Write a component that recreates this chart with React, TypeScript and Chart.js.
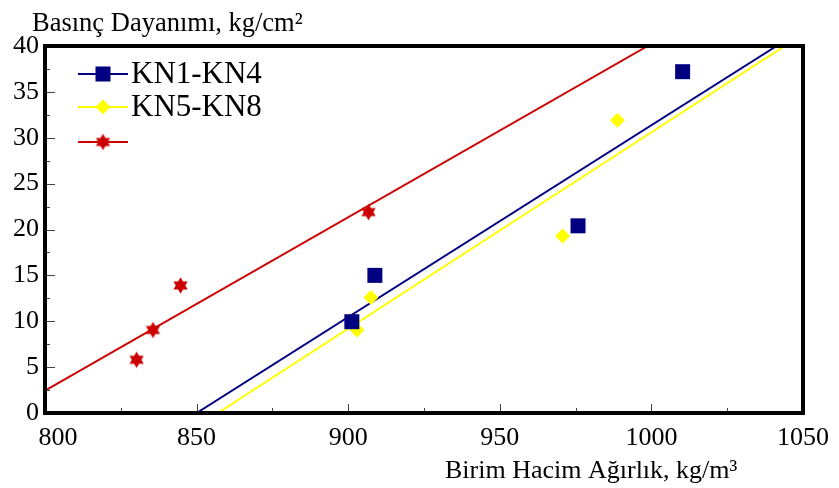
import React, { useEffect, useRef } from "react";
import { Chart, registerables } from "chart.js";

Chart.register(...registerables);

// ---- data ----
const seriesNames = ["KN1-KN4", "KN5-KN8", ""];
const seriesColors = ["#000080", "#FFFF00", "#CC0000"];

const kn1x = [901.2, 908.8, 975.8, 1010.3];
const kn1y = [9.95, 15.0, 20.4, 37.2];
const kn5x = [902.9, 907.5, 970.7, 988.8];
const kn5y = [9.05, 12.6, 19.3, 31.9];
const kn9x = [830.2, 835.6, 844.7, 906.7];
const kn9y = [5.8, 9.05, 13.9, 21.9];

// fitted lines as drawn in the picture (end points)
const kn1LineX = [850, 1041.3];
const kn1LineY = [0, 40];
const kn5LineX = [857, 1044];
const kn5LineY = [0, 40];
const kn9LineX = [800, 998.8];
const kn9LineY = [2.43, 40];

const xTickValues = [800, 850, 900, 950, 1000, 1050];
const xTickLabels = ["800", "850", "900", "950", "1000", "1050"];
const xMinorTicks = [825, 875, 925, 975, 1025];
const yTickValues = [0, 5, 10, 15, 20, 25, 30, 35, 40];
const yTickLabels = ["0", "5", "10", "15", "20", "25", "30", "35", "40"];
const yMinorTicks = [2.5, 7.5, 12.5, 17.5, 22.5, 27.5, 32.5, 37.5];

const yAxisTitle = "Basınç Dayanımı, kg/cm²";
const xAxisTitle = "Birim Hacim Ağırlık, kg/m³";

const SERIF = '"Liberation Serif", "Times New Roman", serif';

function pts(xs: number[], ys: number[]) {
  return xs.map((x, i) => ({ x, y: ys[i] }));
}

function makeStar(color: string, r: number): HTMLCanvasElement {
  const c = document.createElement("canvas");
  const s = Math.ceil(r * 2) + 2;
  c.width = s;
  c.height = s;
  const ctx = c.getContext("2d")!;
  const cx = s / 2;
  const cy = s / 2;
  ctx.fillStyle = color;
  [
    [-90, 30, 150],
    [90, 210, 330],
  ].forEach((angles) => {
    ctx.beginPath();
    angles.forEach((a, i) => {
      const rad = (a * Math.PI) / 180;
      const px = cx + r * Math.cos(rad);
      const py = cy + r * Math.sin(rad);
      if (i) ctx.lineTo(px, py);
      else ctx.moveTo(px, py);
    });
    ctx.closePath();
    ctx.fill();
  });
  return c;
}

export default function App() {
  const ref = useRef<HTMLCanvasElement | null>(null);

  useEffect(() => {
    document.body.style.margin = "0";
    const canvas = ref.current;
    if (!canvas) return;
    const star = makeStar(seriesColors[2], 8.2);

    const decor = {
      id: "decor",
      afterDraw(chart: any) {
        const ctx = chart.ctx as CanvasRenderingContext2D;
        const { left, right, top, bottom } = chart.chartArea;
        const xs = chart.scales.x;
        const ys = chart.scales.y;
        ctx.save();
        // inward ticks
        ctx.strokeStyle = "#444";
        ctx.lineWidth = 1;
        ctx.beginPath();
        xTickValues.forEach((v) => {
          const px = Math.round(xs.getPixelForValue(v)) + 0.5;
          ctx.moveTo(px, bottom);
          ctx.lineTo(px, bottom - 9);
        });
        xMinorTicks.forEach((v) => {
          const px = Math.round(xs.getPixelForValue(v)) + 0.5;
          ctx.moveTo(px, bottom);
          ctx.lineTo(px, bottom - 5);
        });
        yTickValues.forEach((v) => {
          const py = Math.round(ys.getPixelForValue(v)) + 0.5;
          ctx.moveTo(left, py);
          ctx.lineTo(left + 10, py);
        });
        yMinorTicks.forEach((v) => {
          const py = Math.round(ys.getPixelForValue(v)) + 0.5;
          ctx.moveTo(left, py);
          ctx.lineTo(left + 5, py);
        });
        ctx.stroke();

        // frame
        ctx.strokeStyle = "#000";
        ctx.lineWidth = 4;
        ctx.strokeRect(left, top, right - left, bottom - top);

        // legend
        const rows = [74, 107, 142];
        rows.forEach((ry, i) => {
          ctx.strokeStyle = seriesColors[i];
          ctx.lineWidth = 2;
          ctx.beginPath();
          ctx.moveTo(78, ry);
          ctx.lineTo(128, ry);
          ctx.stroke();
          ctx.fillStyle = seriesColors[i];
          if (i === 0) {
            ctx.fillRect(103 - 7.5, ry - 7.5, 15, 15);
          } else if (i === 1) {
            ctx.beginPath();
            ctx.moveTo(103, ry - 7.5);
            ctx.lineTo(110.5, ry);
            ctx.lineTo(103, ry + 7.5);
            ctx.lineTo(95.5, ry);
            ctx.closePath();
            ctx.fill();
          } else {
            ctx.drawImage(star, 103 - star.width / 2, ry - star.height / 2);
          }
          ctx.fillStyle = "#000";
          ctx.font = `31px ${SERIF}`;
          ctx.textBaseline = "middle";
          ctx.textAlign = "left";
          ctx.fillText(seriesNames[i], 131, ry + 1);
        });

        // axis titles
        ctx.fillStyle = "#000";
        ctx.textBaseline = "alphabetic";
        ctx.textAlign = "left";
        ctx.font = `26.5px ${SERIF}`;
        ctx.fillText(yAxisTitle, 32, 30.5);
        ctx.font = `26px ${SERIF}`;
        ctx.fillText(xAxisTitle, 445, 478);
        ctx.restore();
      },
    };

    const chart = new Chart(canvas, {
      type: "scatter",
      data: {
        datasets: [
          {
            label: seriesNames[0],
            data: pts(kn1x, kn1y),
            backgroundColor: seriesColors[0],
            borderColor: seriesColors[0],
            pointStyle: "rect",
            pointRadius: 10.6,
            borderWidth: 0,
            showLine: false,
          },
          {
            label: seriesNames[1],
            data: pts(kn5x, kn5y),
            backgroundColor: seriesColors[1],
            borderColor: seriesColors[1],
            pointStyle: "rectRot",
            pointRadius: 7.5,
            borderWidth: 0,
            showLine: false,
          },
          {
            label: seriesNames[2],
            data: pts(kn9x, kn9y),
            backgroundColor: seriesColors[2],
            borderColor: seriesColors[2],
            pointStyle: star as any,
            pointRadius: 8,
            showLine: false,
          },
          {
            label: "kn1-fit",
            data: pts(kn1LineX, kn1LineY),
            borderColor: seriesColors[0],
            borderWidth: 2,
            pointRadius: 0,
            showLine: true,
          },
          {
            label: "kn5-fit",
            data: pts(kn5LineX, kn5LineY),
            borderColor: seriesColors[1],
            borderWidth: 2,
            pointRadius: 0,
            showLine: true,
          },
          {
            label: "kn9-fit",
            data: pts(kn9LineX, kn9LineY),
            borderColor: seriesColors[2],
            borderWidth: 2,
            pointRadius: 0,
            showLine: true,
          },
        ],
      },
      options: {
        responsive: false,
        animation: false,
        devicePixelRatio: 1,
        layout: { padding: { top: 46, right: 34, left: 0, bottom: 0 } },
        plugins: {
          legend: { display: false },
          tooltip: { enabled: false },
        },
        scales: {
          x: {
            type: "linear",
            min: 800,
            max: 1050,
            grid: { display: false, drawTicks: false },
            border: { display: false },
            afterBuildTicks: (scale: any) => {
              scale.ticks = xTickValues.map((v) => ({ value: v }));
            },
            afterFit: (scale: any) => {
              scale.height = 75;
            },
            ticks: {
              autoSkip: false,
              maxRotation: 0,
              padding: 10,
              color: "#000",
              font: { family: SERIF, size: 26 },
              callback: (_v: any, i: number) =>
                i === 0 ? "    " + xTickLabels[i] : xTickLabels[i],
            },
          },
          y: {
            type: "linear",
            min: 0,
            max: 40,
            grid: { display: false, drawTicks: false },
            border: { display: false },
            afterBuildTicks: (scale: any) => {
              scale.ticks = yTickValues.map((v) => ({ value: v }));
            },
            afterFit: (scale: any) => {
              scale.width = 45;
            },
            ticks: {
              autoSkip: false,
              padding: 6,
              color: "#000",
              font: { family: SERIF, size: 26 },
              callback: (_v: any, i: number) => yTickLabels[i],
            },
          },
        },
      },
      plugins: [decor],
    });
    return () => chart.destroy();
  }, []);

  return (
    <div style={{ width: 839, height: 488, position: "relative", background: "#fff" }}>
      <canvas ref={ref} width={839} height={488} style={{ display: "block" }} />
    </div>
  );
}
